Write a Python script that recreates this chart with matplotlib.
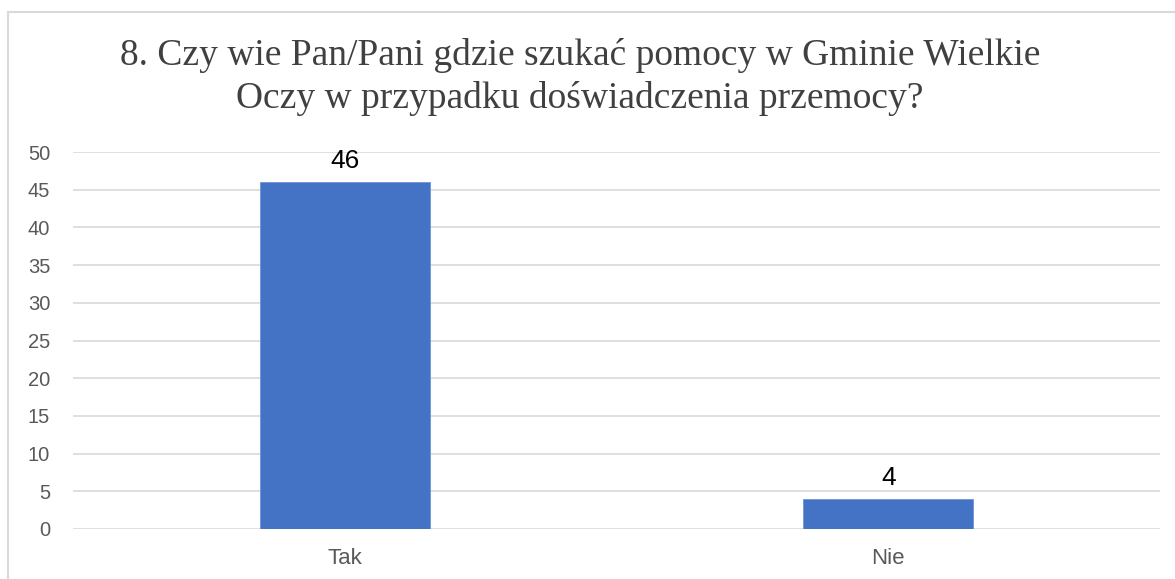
import matplotlib
matplotlib.use('Agg')
import matplotlib.pyplot as plt
from matplotlib.patches import Rectangle

# chart data
categories = ['Tak', 'Nie']
values = [46, 4]
y_ticks = [0, 5, 10, 15, 20, 25, 30, 35, 40, 45, 50]
title = '8. Czy wie Pan/Pani gdzie szukać pomocy w Gminie Wielkie\nOczy w przypadku doświadczenia przemocy?'

W, H = 1175, 579
fig = plt.figure(figsize=(W / 100, H / 100), dpi=100, facecolor='white')

# outer frame (right and bottom edges fall outside the image)
fig.patches.append(Rectangle((8 / W, -0.1), 1.2, (H - 12) / H + 0.1,
                             transform=fig.transFigure, fill=False,
                             edgecolor='#D9D9D9', linewidth=1.5))

ax = fig.add_axes([73 / W, 50 / H, (1160 - 73) / W, (529 - 152) / H])

x = list(range(len(categories)))
bars = ax.bar(x, values, width=0.313, color='#4472C4', edgecolor='#6E93D6',
              linewidth=0.6, zorder=3)

for xi, v in zip(x, values):
    ax.text(xi, v + 1.2, str(v), ha='center', va='bottom', fontsize=19,
            family='Liberation Sans', color='black')

ax.set_xlim(-0.5, len(categories) - 0.5)
ax.set_ylim(0, 50)
ax.set_yticks(y_ticks)
ax.set_xticks(x)
ax.set_xticklabels(categories)
ax.grid(axis='y', color='#D9D9D9', linewidth=1.2, zorder=0)
for s in ax.spines.values():
    s.set_visible(False)
ax.tick_params(axis='both', length=0, labelcolor='#595959')
ax.tick_params(axis='y', pad=16.5, labelsize=14.5)
ax.tick_params(axis='x', pad=14, labelsize=16)
for lab in ax.get_xticklabels() + ax.get_yticklabels():
    lab.set_family('Liberation Sans')

fig.text(580 / W, 1 - 38 / H, title, ha='center', va='top', fontsize=27,
         family='Liberation Serif', color='#404040', linespacing=1.3)

fig.savefig('out.png', dpi=100, facecolor='white')
